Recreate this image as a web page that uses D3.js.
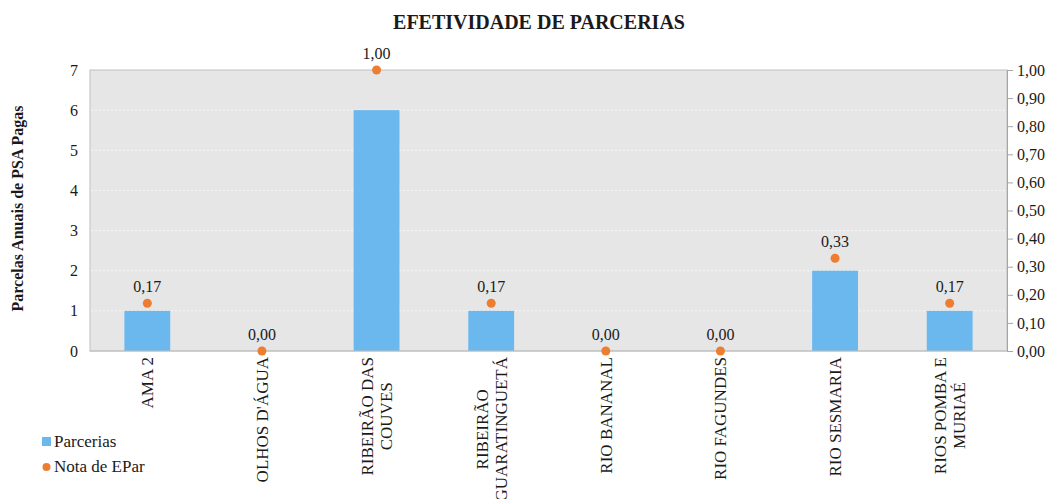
<!DOCTYPE html>
<html>
<head>
<meta charset="utf-8">
<script src="https://cdn.jsdelivr.net/npm/d3@7"></script>
<style>
  html, body { margin: 0; padding: 0; background: #fff; }
  svg { display: block; }
  svg text { font-family: "Liberation Serif", "Times New Roman", serif !important; fill: #1a1a1a; }
</style>
</head>
<body>
<svg id="chart" width="1054" height="499"></svg>
<script>
// Bacias / projetos
const categories = [
  ["AMA 2"],
  ["OLHOS D'ÁGUA"],
  ["RIBEIRÃO DAS", "COUVES"],
  ["RIBEIRÃO", "GUARATINGUETÁ"],
  ["RIO BANANAL"],
  ["RIO FAGUNDES"],
  ["RIO SESMARIA"],
  ["RIOS POMBA E", "MURIAÉ"]
];
// Parcelas anuais de PSA pagas
const parcerias = [1, 0, 6, 1, 0, 0, 2, 1];
// Nota de efetividade de parcerias (eixo secundário)
const notaEPar = [0.17, 0.00, 1.00, 0.17, 0.00, 0.00, 0.33, 0.17];
const leftTicks = [0, 1, 2, 3, 4, 5, 6, 7];
const rightTicks = [0, 0.1, 0.2, 0.3, 0.4, 0.5, 0.6, 0.7, 0.8, 0.9, 1.0];

const svg = d3.select("#chart");
const plot = { left: 90, right: 1007, top: 70, bottom: 351 };
const fmt = v => d3.format(".2f")(v).replace(".", ",");

const x = d3.scaleBand()
  .domain(d3.range(categories.length))
  .range([plot.left, plot.right])
  .paddingInner(0.6).paddingOuter(0.3);
const yL = d3.scaleLinear().domain([0, 7]).range([plot.bottom, plot.top]);
const yR = d3.scaleLinear().domain([0, 1]).range([plot.bottom, plot.top]);

// plot area background
svg.append("rect")
  .attr("x", plot.left).attr("y", plot.top)
  .attr("width", plot.right - plot.left).attr("height", plot.bottom - plot.top)
  .attr("fill", "#e6e6e6").attr("stroke", "#bfbfbf").attr("stroke-width", 1);

// horizontal gridlines
svg.append("g").selectAll("line")
  .data(leftTicks.filter(d => d > 0 && d < 7))
  .join("line")
  .attr("x1", plot.left + 1).attr("x2", plot.right - 1)
  .attr("y1", d => yL(d)).attr("y2", d => yL(d))
  .attr("stroke", "#f8f8f8").attr("stroke-width", 1)
  .attr("stroke-dasharray", "2,2");

// bars
svg.append("g").selectAll("rect")
  .data(parcerias)
  .join("rect")
  .attr("x", (d, i) => x(i))
  .attr("width", x.bandwidth())
  .attr("y", d => yL(d))
  .attr("height", d => yL(0) - yL(d))
  .attr("fill", "#6bb8ee");

// left axis
const axL = svg.append("g")
  .attr("transform", `translate(${plot.left},0)`)
  .call(d3.axisLeft(yL).tickValues(leftTicks).tickSize(0).tickPadding(12).tickFormat(d3.format("d")));
axL.select(".domain").remove();
axL.selectAll("text").attr("font-size", 16);

// right axis
const axR = svg.append("g")
  .attr("transform", `translate(${plot.right},0)`)
  .call(d3.axisRight(yR).tickValues(rightTicks).tickSize(6).tickPadding(4).tickFormat(fmt));
axR.select(".domain").attr("stroke", "#a6a6a6");
axR.selectAll(".tick line").attr("stroke", "#a6a6a6");
axR.selectAll("text").attr("font-size", 16);

// bottom axis line
svg.append("line")
  .attr("x1", plot.left).attr("x2", plot.right)
  .attr("y1", plot.bottom).attr("y2", plot.bottom)
  .attr("stroke", "#bfbfbf");

// category labels, rotated, lines centred within a block anchored under the axis
const lineH = 19;
const labelTop = plot.bottom + 6;
categories.forEach((lines, i) => {
  const cx = x(i) + x.bandwidth() / 2;
  const g = svg.append("g");
  const texts = lines.map(t => g.append("text")
    .text(t).attr("font-size", 17)
    .attr("text-anchor", "middle"));
  const maxW = d3.max(texts, t => t.node().getComputedTextLength());
  const centerY = labelTop + maxW / 2;
  const n = lines.length;
  texts.forEach((t, j) => {
    const off = (j - (n - 1) / 2) * lineH;
    t.attr("transform", `translate(${cx + off + 6},${centerY}) rotate(-90)`);
  });
});

// points on the secondary axis
svg.append("g").selectAll("circle")
  .data(notaEPar)
  .join("circle")
  .attr("cx", (d, i) => x(i) + x.bandwidth() / 2)
  .attr("cy", d => yR(d))
  .attr("r", 4.5)
  .attr("fill", "#ed7d31");

// value labels
svg.append("g").selectAll("text")
  .data(notaEPar)
  .join("text")
  .attr("x", (d, i) => x(i) + x.bandwidth() / 2)
  .attr("y", d => yR(d) - 11)
  .attr("text-anchor", "middle")
  .attr("font-size", 16)
  .text(fmt);

// title
svg.append("text")
  .attr("x", 539).attr("y", 29)
  .attr("text-anchor", "middle")
  .attr("font-size", 20).attr("font-weight", "bold")
  .text("EFETIVIDADE DE PARCERIAS");

// y-axis title
svg.append("text")
  .attr("transform", `translate(23,${(plot.top + plot.bottom) / 2 - 2}) rotate(-90)`)
  .attr("text-anchor", "middle")
  .attr("font-size", 16).attr("font-weight", "bold")
  .text("Parcelas Anuais de PSA Pagas");

// legend
const lg = svg.append("g");
lg.append("rect").attr("x", 42).attr("y", 437).attr("width", 9).attr("height", 9).attr("fill", "#6bb8ee");
lg.append("text").attr("x", 54).attr("y", 447).attr("font-size", 17).text("Parcerias");
lg.append("circle").attr("cx", 46.5).attr("cy", 467).attr("r", 4).attr("fill", "#ed7d31");
lg.append("text").attr("x", 54).attr("y", 472).attr("font-size", 17).text("Nota de EPar");
</script>
</body>
</html>
